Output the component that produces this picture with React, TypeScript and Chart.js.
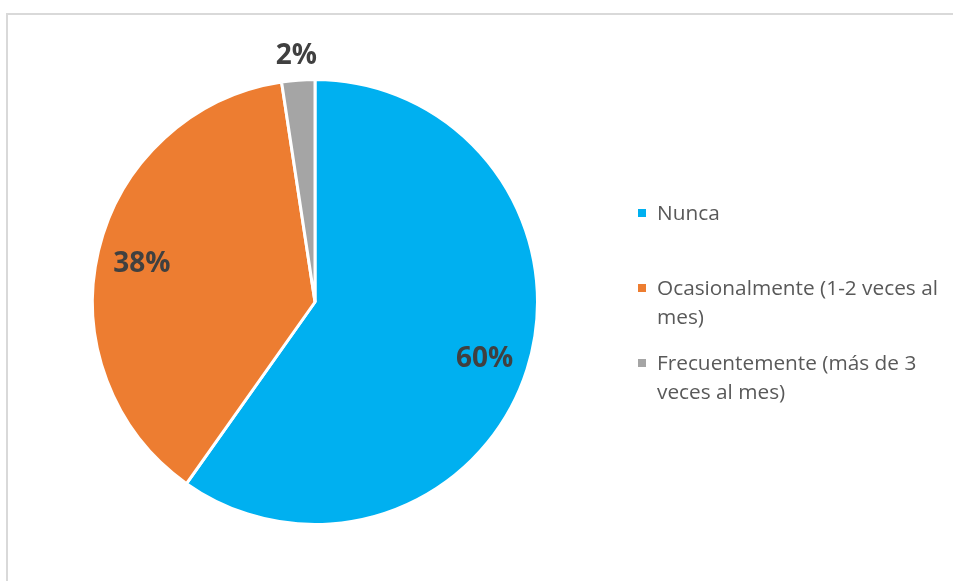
import React, { useEffect, useRef } from "react";
import { Chart, registerables } from "chart.js";

Chart.register(...registerables);

const categories = [
  "Nunca",
  "Ocasionalmente (1-2 veces al mes)",
  "Frecuentemente (más de 3 veces al mes)",
];
const values = [59.8, 37.8, 2.4];
const colors = ["#00B0F0", "#ED7D31", "#A5A5A5"];

const FONT = "'Open Sans', 'Noto Sans', sans-serif";

const labelPlugin = {
  id: "sliceLabels",
  afterDatasetsDraw(chart: any) {
    const ctx = chart.ctx;
    const meta = chart.getDatasetMeta(0);
    const data = chart.data.datasets[0].data as number[];
    const total = data.reduce((a, b) => a + b, 0);
    ctx.save();
    ctx.font = `bold 28px ${FONT}`;
    ctx.fillStyle = "#404040";
    ctx.textAlign = "center";
    ctx.textBaseline = "middle";
    meta.data.forEach((arc: any, i: number) => {
      const { x, y, startAngle, endAngle, outerRadius } = arc.getProps(
        ["x", "y", "startAngle", "endAngle", "outerRadius"],
        true
      );
      const mid = (startAngle + endAngle) / 2;
      const pct = data[i] / total;
      const dist = pct < 0.05 ? outerRadius + 25 : outerRadius * 0.8;
      const lx = x + Math.cos(mid) * dist;
      const ly = y + Math.sin(mid) * dist + (pct < 0.05 ? 1 : 3);
      ctx.fillText(Math.round(pct * 100) + "%", lx, ly);
    });
    ctx.restore();
  },
};

export default function App() {
  const canvasRef = useRef<HTMLCanvasElement | null>(null);

  useEffect(() => {
    if (!canvasRef.current) return;
    const chart = new Chart(canvasRef.current, {
      type: "pie",
      data: {
        labels: categories,
        datasets: [
          {
            data: values,
            backgroundColor: colors,
            borderColor: "#ffffff",
            borderWidth: 3,
          },
        ],
      },
      options: {
        animation: false,
        responsive: false,
        maintainAspectRatio: false,
        layout: { padding: { left: 91, right: 414, top: 77, bottom: 54 } },
        plugins: {
          legend: { display: false },
          tooltip: { enabled: false },
        },
      },
      plugins: [labelPlugin],
    });
    return () => chart.destroy();
  }, []);

  return (
    <div
      style={{
        position: "fixed",
        left: 0,
        top: 0,
        width: 953,
        height: 581,
        overflow: "hidden",
        background: "#ffffff",
        fontFamily: FONT,
      }}
    >
      <div
        style={{
          position: "absolute",
          left: 6,
          top: 13,
          width: 1200,
          height: 1200,
          border: "2px solid #D9D9D9",
        }}
      />
      <canvas
        ref={canvasRef}
        width={953}
        height={581}
        style={{ position: "absolute", left: 0, top: 0, width: 953, height: 581 }}
      />
      <div style={{ position: "absolute", left: 638, top: 198, width: 310 }}>
        {categories.map((c, i) => (
          <div
            key={c}
            style={{
              height: 75,
              display: "flex",
              alignItems: "flex-start",
              color: "#595959",
              fontSize: 20.8,
              lineHeight: "29px",
            }}
          >
            <span
              style={{
                width: 8,
                height: 8,
                marginTop: 11,
                marginRight: 11,
                background: colors[i],
                flex: "0 0 auto",
              }}
            />
            <span style={{ width: 296 }}>{c}</span>
          </div>
        ))}
      </div>
    </div>
  );
}
